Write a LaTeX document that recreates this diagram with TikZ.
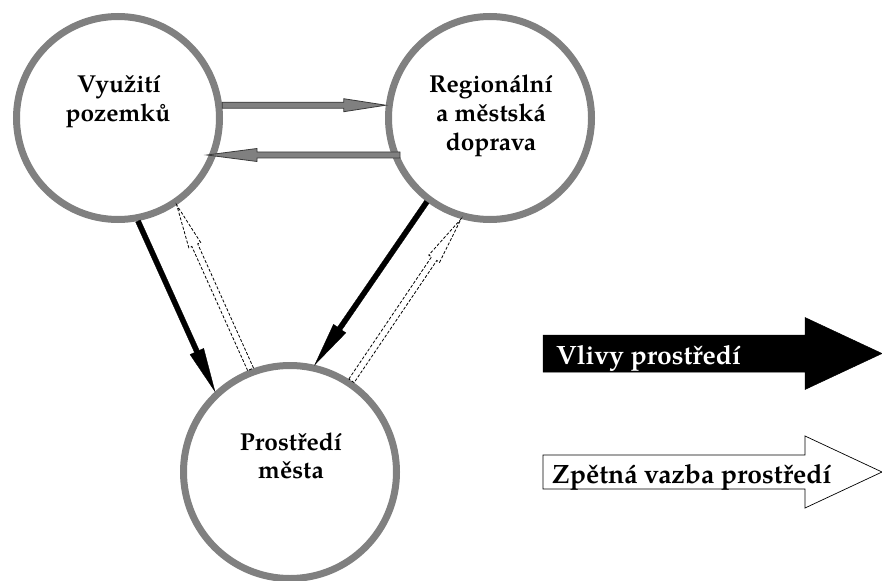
\documentclass[tikz,border=0pt]{standalone}
\usepackage{fontspec}
\setmainfont{TeX Gyre Pagella}
\usetikzlibrary{calc}
\definecolor{ring}{HTML}{808080}
\definecolor{arrgray}{HTML}{808080}
\definecolor{arredge}{HTML}{3A3A3A}
% #1 style, #2 tail, #3 tip, #4 shaft half width, #5 head half width, #6 head length
\newcommand{\blockarr}[6][]{%
  \coordinate (bah) at ($(#3)!#6!(#2)$);
  \path[#1] ($(#2)!#4!90:(#3)$) -- ($(bah)!#4!90:(#3)$) -- ($(bah)!#5!90:(#3)$)
    -- (#3) -- ($(bah)!#5!-90:(#3)$) -- ($(bah)!#4!-90:(#3)$) -- ($(#2)!#4!-90:(#3)$) -- cycle;
}
\tikzset{
  ringnode/.style={circle, draw=ring, line width=7pt, fill=white, inner sep=0pt},
  lbl/.style={font=\fontsize{24.5}{29}\selectfont\bfseries, inner sep=0pt, anchor=base},
  leglbl/.style={font=\fontsize{26.5}{31}\selectfont\bfseries, inner sep=0pt, anchor=base west},
  grayarr/.style={fill=arrgray, draw=arredge, line width=0.8pt, line join=miter},
  blackarr/.style={fill=black, draw=black, line width=0.3pt},
  dasharr/.style={fill=white, draw=black, line width=0.8pt, dash pattern=on 3pt off 1.8pt},
  legblack/.style={fill=black, draw=black, line width=0.5pt},
  legwhite/.style={fill=white, draw=black, line width=0.7pt},
}
\begin{document}
\begin{tikzpicture}[x=1pt,y=-1pt]
\useasboundingbox (0,0) rectangle (882,580);
% circles
\node[ringnode, minimum size=203pt] (c1) at (118,118) {};
\node[ringnode, minimum size=203pt] (c2) at (490,118) {};
\node[ringnode, minimum size=213pt] (c3) at (290,472) {};
% labels
\node[lbl] (t1a) at (119,93) {Využití};
\node[lbl] (t1b) at (118,122) {pozemků};
\node[lbl] (t2a) at (491,93) {Regionální};
\node[lbl] (t2b) at (491,122) {a městská};
\node[lbl] (t2c) at (491,150) {doprava};
\node[lbl] (t3a) at (291,450) {Prostředí};
\node[lbl] (t3b) at (291,478) {města};
% connection points
\coordinate (g1s) at (c1.7);
\coordinate (g1e) at (c2.173);
\coordinate (g2s) at (400,155);
\coordinate (g2e) at (207,155);
\coordinate (b1s) at (c1.-79);
\coordinate (b1e) at (c3.133);
\coordinate (b2s) at (c2.-127);
\coordinate (b2e) at (c3.77);
\coordinate (d1s) at (c3.111);
\coordinate (d1e) at (c1.-56);
\coordinate (d2s) at (c3.56);
\coordinate (d2e) at (c2.-106);
% gray horizontal arrows
\blockarr[grayarr]{g1s}{g1e}{3pt}{6.5pt}{42pt}
\blockarr[grayarr]{g2s}{g2e}{3pt}{6.5pt}{50pt}
% black arrows
\blockarr[blackarr]{b1s}{b1e}{2.6pt}{7.5pt}{44pt}
\blockarr[blackarr]{b2s}{b2e}{2.6pt}{7.5pt}{44pt}
% dashed feedback arrows
\blockarr[dasharr]{d1s}{d1e}{3.2pt}{6.5pt}{44pt}
\blockarr[dasharr]{d2s}{d2e}{3.2pt}{6.5pt}{48pt}
% legend
\coordinate (l1s) at (543,353.5);
\coordinate (l1e) at (882,353.5);
\coordinate (l2s) at (543,472);
\coordinate (l2e) at (882,472);
\blockarr[legblack]{l1s}{l1e}{18.5pt}{36pt}{77pt}
\blockarr[legwhite]{l2s}{l2e}{17pt}{36pt}{77pt}
\node[leglbl, text=white] (v1) at (556,364) {Vlivy prostředí};
\node[leglbl] (v2) at (552,483) {Zpětná vazba prostředí};
\end{tikzpicture}
\end{document}
